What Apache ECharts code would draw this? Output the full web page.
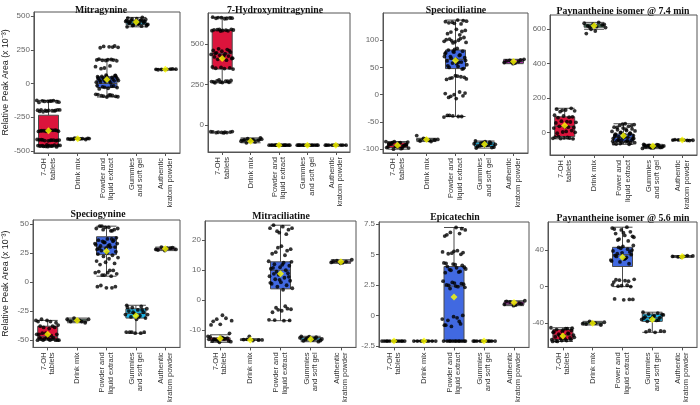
<!DOCTYPE html>
<html>
<head>
<meta charset="utf-8">
<script src="https://cdn.jsdelivr.net/npm/echarts@6/dist/echarts.min.js"></script>
<style>
html,body{margin:0;padding:0;background:#fff}
#chart{width:700px;height:405px}
</style>
</head>
<body>
<div id="chart"></div>
<script>
// categories
var cats = ['7-OH\ntablets', 'Drink mix', 'Powder and\nliquid extract', 'Gummies\nand soft gel', 'Authentic\nkratom powder'];
var catsPower = ['7-OH\ntablets', 'Drink mix', 'Power and\nliquid extract', 'Gummies\nand soft gel', 'Authentic\nkratom powder'];
var titles = ['Mitragynine', '7-Hydroxymitragynine', 'Speciociliatine', 'Paynantheine isomer @ 7.4 min',
              'Speciogynine', 'Mitraciliatine', 'Epicatechin', 'Paynantheine isomer @ 5.6 min'];
var boxColors = ['#dc143c', '#2e8b57', '#4169e1', '#1eb4e6', '#e41ee4'];

// tick labels
var ticks1 = [-500, -250, 0, 250, 500];
var ticks2 = [0, 250, 500];
var ticks3 = [-100, -50, 0, 50, 100];
var ticks4 = [0, 200, 400, 600];
var ticks5 = [-50, -25, 0, 25, 50];
var ticks6 = [-10, 0, 10, 20];
var ticks7 = [-2.5, 0, 2.5, 5, 7.5];
var ticks8 = [-40, 0, 40];

// Mitragynine
var mitPts = [
  [-125,-130,-128,-135,-132,-140,-127,-133,-138,-130,-195,-200,-205,-198,-202,-210,-195,-200,-207,-203,-199,-196,
   -345,-350,-348,-352,-355,-347,-350,-353,-349,-351,-346,-354,-415,-420,-418,-422,-425,-417,-420,-423,-419,-421,-416,-424,
   -455,-460,-462,-465,-458,-461,-463,-457,-466,-459,-464,-460,-470,-468],
  [-405,-408,-410,-412,-415,-407,-411,-409,-413,-406,-410,-414],
  [270,275,268,272,265,278,170,175,178,172,168,176,180,174,115,125,130,110,
   60,55,50,45,40,35,30,25,20,15,10,5,52,48,42,38,33,28,22,18,12,58,62,
   -15,-20,-25,-30,-35,-40,-18,-28,-80,-85,-90,-95,-100,-82,-88,-93,-98,-86],
  [420,425,430,435,440,445,450,455,460,465,470,475,480,485,490,432,438,444,452,458,462,468,472,478,428,448,456,466],
  [103,105,107,104,106,105,102,108]
];
var mitBox = [[-470,-462,-350,-235,-125],[-415,-411,-410,-408,-405],[-100,-30,0,50,180],[420,435,450,465,490],[102,104,105,106,108]];
var mitMean = [-350, -410, 30, 455, 105];

// 7-Hydroxymitragynine
var hydPts = [
  [-42,-45,-48,-44,-46,-43,-47,-45,-41,-49,260,263,265,268,270,272,275,262,266,271,278,
   345,348,350,352,355,358,400,405,410,415,420,425,430,435,440,445,450,455,460,465,470,412,428,442,458,
   580,582,585,588,590,583,587,581,589,586,655,658,660,662,665,657,663,659],
  [-85,-88,-90,-92,-95,-98,-100,-105,-110,-80,-93,-97],
  [-125,-125,-125,-125,-125,-125,-125,-125,-125,-125,-125,-125,-125,-125,-125],
  [-125,-125,-125,-125,-125,-125,-125,-125,-125,-125,-125,-125,-125,-125],
  [-125,-125,-125,-125,-125,-125,-125,-125,-125,-125]
];
var hydBox = [[260,345,440,585,665],[-110,-98,-92,-86,-80],[-125,-125,-125,-125,-125],[-125,-125,-125,-125,-125],[-125,-125,-125,-125,-125]];
var hydMean = [410, -100, -125, -125, -125];

// Speciociliatine
var spcPts = [
  [-86,-88,-90,-92,-94,-96,-98,-100,-87,-89,-91,-93,-95,-97,-99,-88,-92,-96,-90,-94,-86,-98],
  [-80,-82,-84,-85,-83,-81,-75,-86],
  [130,133,135,137,132,136,131,134,110,115,118,120,112,116,95,98,100,102,105,97,101,103,99,96,
   85,82,80,78,75,72,70,68,65,62,60,58,55,52,50,48,83,77,73,67,63,57,53,47,80,70,60,
   30,32,35,28,33,31,29,34,-5,-2,0,2,5,-3,3,-7,-38,-40,-39,-41,-40,-38],
  [-85,-87,-89,-91,-93,-95,-97,-88,-90,-92,-94,-96,-86,-98,-89,-93],
  [57,59,61,63,65,58,62,64,60]
];
var spcBox = [[-100,-97,-93,-88,-86],[-86,-84,-82,-81,-80],[-40,48,65,82,137],[-98,-95,-91,-87,-85],[57,58,61,64,65]];
var spcMean = [-93, -82, 63, -91, 61];

// Paynantheine isomer @ 7.4 min
var p74Pts = [
  [-35,-30,-25,-38,-32,-28,-33,-36,0,5,-5,10,2,25,30,35,28,32,55,60,65,58,62,85,90,95,100,88,120,125,130,135,140,128],
  [600,610,615,620,625,630,635,640,612,628,590,575],
  [-70,-65,-60,-55,-50,-45,-40,-35,-30,-25,-20,-15,-10,-5,0,5,10,15,20,25,30,35,40,45,50,
   -68,-62,-58,-52,-48,-42,-38,-28,-22,-12,-2,8,18,28,38,48,-66,-56,-46,-36,-26,-16,-6],
  [-70,-73,-76,-79,-82,-85,-88,-91,-94,-72,-78,-84,-90,-75,-81,-87],
  [-43,-45,-47,-44,-46,-45,-42,-48]
];
var p74Box = [[-38,-25,35,90,140],[600,612,620,630,640],[-70,-55,-30,-10,50],[-95,-88,-82,-76,-70],[-48,-46,-45,-44,-42]];
var p74Mean = [40, 620, -20, -80, -45];

// Speciogynine
var spgPts = [
  [-33,-34,-32,-35,-33,-34,-38,-39,-37,-40,-38,-39,-44,-45,-46,-44,-45,-46,-45,
   -48,-49,-50,-50,-49,-50,-48,-50,-49,-50,-50,-49,-48],
  [-31,-32,-33,-34,-35,-33,-32,-34],
  [44,45,46,47,48,45,47,46,44,48,38,37,36,35,34,33,32,31,30,29,28,37,35,33,31,29,36,34,32,30,
   27,26,25,24,23,22,21,20,15,16,17,18,5,6,7,8,9,10,6,8,10,-3,-4,-5,-4,-5],
  [-20,-21,-22,-23,-24,-25,-26,-27,-28,-29,-30,-31,-32,-22,-24,-26,-28,-30,-43,-43,-44,-43,-44,-43],
  [27,28,29,30,28,29,27.5,29.5]
];
var spgBox = [[-50,-49,-47,-38,-33],[-35,-34,-33,-32,-31],[5,23.5,30,38.9,48],[-44,-31,-27,-23,-20],[27,27.8,28.5,29.2,30]];
var spgMean = [-45, -33, 26.5, -29, 28.5];

// Mitraciliatine
var mclPts = [
  [-12,-12.5,-13,-13.5,-14,-12.2,-12.8,-13.2,-13.8,-12.4,-13.6,-12.6,-13.4,-13,-12.9,-13.1,-11,-8,-8.2,-6,-6.3,-6.8,-5,-7],
  [-13,-13.2,-13.4,-13.1,-13.3,-12],
  [22,23,24,24.5,25,23.5,22.5,24,15,16,17,18,15.5,16.5,17.5,13,12.5,12,11.5,11,10.5,10,9.5,12.8,11.8,10.8,
   9,8.5,8,7.5,7,6.5,6,5.5,5,4.5,4,3.5,8.8,7.8,6.8,5.8,-2,-2.5,-3,-3.5,-4,-2.8,-3.2,-6.5,-6.8,-6.6,-6.7],
  [-12,-12.3,-12.6,-12.9,-13.2,-13.5,-13.8,-12.1,-12.5,-12.8,-13.1,-13.4],
  [12.3,12.6,12.9,13.2,13.5,12.5,13]
];
var mclBox = [[-14,-13.5,-13,-12.5,-11.5],[-13.4,-13.3,-13.2,-13,-12.8],[-6.8,3.8,10,12.8,25],[-13.8,-13.3,-12.9,-12.4,-12],[12.3,12.6,12.8,13.1,13.5]];
var mclMean = [-12.7, -13.2, 8.8, -13, 12.8];

// Epicatechin
var epiPts = [
  [-2.1,-2.1,-2.1,-2.1,-2.1,-2.1,-2.1,-2.1,-2.1,-2.1,-2.1,-2.1],
  [-2.1,-2.1,-2.1,-2.1,-2.1,-2.1,-2.1,-2.1],
  [-2.1,-2.1,-2.1,-2.1,-2.1,-2.1,-2.1,-2.1,-2.1,-2.1,-2.1,-2.1,-0.8,-0.7,-0.9,-0.3,-0.2,-0.4,0,-0.1,-0.8,-0.5,
   2.2,2.3,2.4,2.5,2.6,2.7,2.8,2.35,2.45,2.55,2.65,3.5,3.6,3.7,3.8,3.9,4.0,4.1,4.2,4.3,3.55,3.75,3.95,4.15,4.25,
   5.0,5.1,5.2,5.3,5.05,5.15,5.25,6.5,6.7,6.8,7.0,7.2,6.6,7.1],
  [-2.1,-2.1,-2.1,-2.1,-2.1,-2.1,-2.1,-2.1,-2.1,-2.1],
  [0.8,0.9,1.0,1.1,1.2,0.85,1.15,0.95]
];
var epiBox = [[-2.1,-2.1,-2.1,-2.1,-2.1],[-2.1,-2.1,-2.1,-2.1,-2.1],[-2.1,-2.1,2.4,4.0,7.2],[-2.1,-2.1,-2.1,-2.1,-2.1],[0.8,0.88,1.0,1.12,1.2]];
var epiMean = [-2.1, -2.1, 1.5, -2.1, 1.05];

// Paynantheine isomer @ 5.6 min
var p56Pts = [
  [-45,-46,-47,-48,-49,-50,-51,-52,-53,-54,-55,-56,-57,-58,-59,-60,-45.5,-47.5,-49.5,-51.5,-53.5,-55.5,-57.5,-59.5,-58,-59,-60,-46],
  [-38,-39,-40,-41,-42,-39.5,-40.5],
  [50,52,54,56,58,60,62,64,65,51,55,59,63,25,27,29,31,33,35,37,39,41,43,45,30,34,38,42,28,32,36,40,44,
   5,6,7,8,6.5,7.5,0,1,2,1.5,0.5,-14,-14.5,-13.5,-14],
  [-28,-29,-30,-31,-32,-33,-34,-35,-36,-37,-38,-30.5,-32.5,-34.5,-36.5,-48,-49,-50,-49.5,-48.5],
  [32,33,34,32.5,33.5,33]
];
var p56Box = [[-60,-58,-53,-47,-45],[-42,-41,-40,-39,-38],[0,22,35,43,65],[-50,-38,-34,-30,-28],[32,32.5,33,33.5,34]];
var p56Mean = [-54, -40, 32, -36, 33];

var panels = [
  {pts: mitPts, box: mitBox, mean: mitMean, ticks: ticks1, cats: cats, min: -515, max: 530, g: [32, 12, 148, 141], tx: 96, ty: 0},
  {pts: hydPts, box: hydBox, mean: hydMean, ticks: ticks2, cats: cats, min: -167, max: 691, g: [208, 13, 142, 139], tx: 270, ty: 0},
  {pts: spcPts, box: spcBox, mean: spcMean, ticks: ticks3, cats: cats, min: -107, max: 150, g: [383, 13, 145, 140], tx: 451, ty: 0},
  {pts: p74Pts, box: p74Box, mean: p74Mean, ticks: ticks4, cats: catsPower, min: -132, max: 683, g: [550, 15, 147, 140], tx: 618, ty: 1},
  {pts: spgPts, box: spgBox, mean: spgMean, ticks: ticks5, cats: cats, min: -56.2, max: 53.3, g: [30, 220, 150, 142], tx: 93, ty: 204},
  {pts: mclPts, box: mclBox, mean: mclMean, ticks: ticks6, cats: cats, min: -15.7, max: 26.4, g: [205, 221, 151, 140], tx: 276, ty: 206},
  {pts: epiPts, box: epiBox, mean: epiMean, ticks: ticks7, cats: cats, min: -2.62, max: 7.65, g: [379, 222, 150, 140], tx: 450, ty: 207},
  {pts: p56Pts, box: p56Box, mean: p56Mean, ticks: ticks8, cats: catsPower, min: -66.5, max: 70.7, g: [548, 222, 149, 140], tx: 618, ty: 208}
];

function jit(i, g) {
  return (((i * 0.618034 + g * 0.37) % 1) - 0.5) * 0.8;
}

var grids = [], xAxes = [], yAxes = [], series = [], titleList = [];

panels.forEach(function (p, k) {
  grids.push({left: p.g[0], top: p.g[1], width: p.g[2], height: p.g[3], show: true, borderColor: '#555', borderWidth: 1});
  titleList.push({text: titles[k], left: p.tx, top: p.ty, textAlign: 'center',
    textStyle: {fontFamily: 'Liberation Serif', fontWeight: 'bold', fontSize: 9.8, color: '#111'}});
  xAxes.push({type: 'category', gridIndex: k, data: p.cats, boundaryGap: true,
    axisLine: {show: true, onZero: false, lineStyle: {color: '#555'}},
    axisTick: {show: true, alignWithLabel: true, length: 3, lineStyle: {color: '#555'}},
    axisLabel: {rotate: 90, interval: 0, fontSize: 7.5, lineHeight: 8.5, color: '#333', margin: 5, fontFamily: 'Liberation Sans'}});
  xAxes.push({type: 'value', gridIndex: k, min: -0.5, max: 4.5, show: false});
  var y = {type: 'value', gridIndex: k, min: p.min, max: p.max, splitLine: {show: false},
    axisLine: {show: true, onZero: false, lineStyle: {color: '#555'}},
    axisTick: {show: true, length: 3, customValues: p.ticks, lineStyle: {color: '#555'}},
    axisLabel: {customValues: p.ticks, fontSize: 8, color: '#666', margin: 4, fontFamily: 'Liberation Sans'}};
  if (k === 0 || k === 4) {
    y.name = 'Relative Peak Area (x 10\u207B\u00B3)';
    y.nameLocation = 'middle';
    y.nameGap = 23;
    y.nameTextStyle = {fontSize: 8.8, color: '#222', fontFamily: 'Liberation Sans'};
  }
  yAxes.push(y);

  series.push({type: 'boxplot', xAxisIndex: 2 * k, yAxisIndex: k, boxWidth: [20, 20], z: 2,
    data: p.box.map(function (b, g) {
      return {value: b, itemStyle: {color: boxColors[g], borderColor: '#4a4a4a', borderWidth: 1}};
    })});
  var pts = [];
  p.pts.forEach(function (arr, g) {
    arr.forEach(function (v, i) { pts.push([g + jit(i, g), v]); });
  });
  series.push({type: 'scatter', xAxisIndex: 2 * k + 1, yAxisIndex: k, data: pts, symbolSize: 3.8, z: 3,
    itemStyle: {color: '#000'}});
  series.push({type: 'scatter', xAxisIndex: 2 * k + 1, yAxisIndex: k, symbol: 'diamond', symbolSize: 7, z: 4,
    data: p.mean.map(function (m, g) { return [g, m]; }), itemStyle: {color: '#ffff00'}});
});

var chart = echarts.init(document.getElementById('chart'));
chart.setOption({
  animation: false,
  title: titleList,
  grid: grids,
  xAxis: xAxes,
  yAxis: yAxes,
  series: series
});
</script>
</body>
</html>
